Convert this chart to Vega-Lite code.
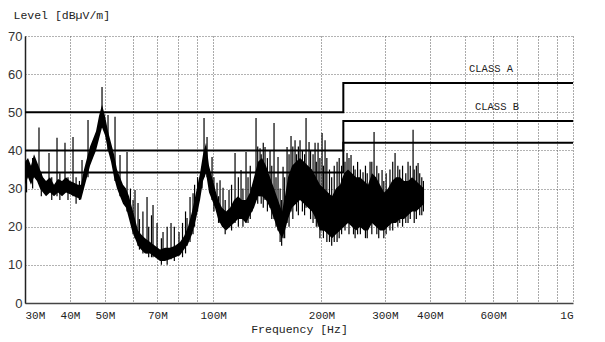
{
  "$schema": "https://vega.github.io/schema/vega-lite/v6.json",
  "width": 548,
  "height": 267,
  "autosize": {"type": "none"},
  "padding": {"left": 25, "top": 36, "right": 32, "bottom": 39},
  "background": "white",
  "config": {"view": {"stroke": null}},
  "datasets": {
    "band": [
      {"f": 30.00, "v2": 31, "v": 37}, {"f": 30.58, "v2": 33, "v": 38}, {"f": 31.17, "v2": 31, "v": 36},
      {"f": 31.78, "v2": 33, "v": 39}, {"f": 32.39, "v2": 32, "v": 37}, {"f": 33.02, "v2": 30, "v": 35},
      {"f": 33.66, "v2": 29, "v": 33}, {"f": 34.32, "v2": 28, "v": 32}, {"f": 35.21, "v2": 29, "v": 33},
      {"f": 36.12, "v2": 28, "v": 31}, {"f": 37.05, "v2": 29, "v": 32.5}, {"f": 38.02, "v2": 28, "v": 32},
      {"f": 39.00, "v2": 29, "v": 33}, {"f": 40.01, "v2": 28.5, "v": 32}, {"f": 41.05, "v2": 28, "v": 31.5},
      {"f": 42.11, "v2": 27.5, "v": 31}, {"f": 42.93, "v2": 27, "v": 31}, {"f": 43.76, "v2": 30, "v": 35},
      {"f": 44.61, "v2": 33, "v": 38}, {"f": 45.48, "v2": 36, "v": 41}, {"f": 46.36, "v2": 38, "v": 43},
      {"f": 47.26, "v2": 40, "v": 45}, {"f": 48.17, "v2": 43, "v": 49}, {"f": 49.11, "v2": 46, "v": 52},
      {"f": 50.06, "v2": 44, "v": 49}, {"f": 51.03, "v2": 40, "v": 45}, {"f": 52.02, "v2": 37, "v": 42},
      {"f": 53.03, "v2": 33, "v": 39}, {"f": 54.05, "v2": 30, "v": 35}, {"f": 55.10, "v2": 28, "v": 33},
      {"f": 56.17, "v2": 26, "v": 31}, {"f": 57.26, "v2": 25, "v": 30}, {"f": 58.37, "v2": 22, "v": 28},
      {"f": 59.50, "v2": 19, "v": 25}, {"f": 60.65, "v2": 17, "v": 22}, {"f": 61.83, "v2": 15, "v": 19},
      {"f": 63.03, "v2": 14, "v": 18}, {"f": 64.66, "v2": 13, "v": 17}, {"f": 66.77, "v2": 13, "v": 16},
      {"f": 68.94, "v2": 12, "v": 15}, {"f": 71.18, "v2": 11, "v": 14}, {"f": 73.49, "v2": 11, "v": 14.5},
      {"f": 75.88, "v2": 11.5, "v": 14.5}, {"f": 78.35, "v2": 12, "v": 15}, {"f": 80.90, "v2": 12.5, "v": 16},
      {"f": 83.00, "v2": 14, "v": 17.5}, {"f": 85.15, "v2": 15.5, "v": 20}, {"f": 87.36, "v2": 18, "v": 24},
      {"f": 89.62, "v2": 22, "v": 29}, {"f": 91.95, "v2": 27, "v": 34}, {"f": 93.73, "v2": 32, "v": 39},
      {"f": 95.55, "v2": 34, "v": 42}, {"f": 97.40, "v2": 29, "v": 36}, {"f": 99.29, "v2": 27, "v": 33},
      {"f": 101.21, "v2": 25, "v": 30}, {"f": 103.17, "v2": 22, "v": 27}, {"f": 105.85, "v2": 20, "v": 25},
      {"f": 108.59, "v2": 19, "v": 24}, {"f": 111.41, "v2": 20, "v": 25}, {"f": 114.29, "v2": 21, "v": 27},
      {"f": 117.26, "v2": 22, "v": 28}, {"f": 120.30, "v2": 22, "v": 27}, {"f": 123.41, "v2": 21, "v": 27},
      {"f": 126.61, "v2": 23, "v": 29}, {"f": 129.89, "v2": 25, "v": 33}, {"f": 133.26, "v2": 28, "v": 37},
      {"f": 136.72, "v2": 28, "v": 38}, {"f": 140.26, "v2": 27, "v": 36}, {"f": 143.90, "v2": 25, "v": 33},
      {"f": 147.63, "v2": 22, "v": 30}, {"f": 151.45, "v2": 19, "v": 27}, {"f": 155.38, "v2": 17, "v": 24},
      {"f": 158.39, "v2": 19, "v": 28}, {"f": 161.46, "v2": 22, "v": 33}, {"f": 165.65, "v2": 25, "v": 36},
      {"f": 169.94, "v2": 26, "v": 37}, {"f": 174.35, "v2": 27, "v": 38}, {"f": 178.86, "v2": 26, "v": 37},
      {"f": 183.50, "v2": 25, "v": 36}, {"f": 188.26, "v2": 24, "v": 35}, {"f": 193.14, "v2": 22, "v": 33},
      {"f": 198.14, "v2": 19, "v": 31}, {"f": 203.28, "v2": 19, "v": 30}, {"f": 208.55, "v2": 18, "v": 29},
      {"f": 213.96, "v2": 17, "v": 28}, {"f": 219.50, "v2": 18, "v": 30}, {"f": 225.19, "v2": 19, "v": 31},
      {"f": 231.03, "v2": 20, "v": 34}, {"f": 237.02, "v2": 21, "v": 35}, {"f": 243.16, "v2": 20, "v": 34},
      {"f": 249.47, "v2": 19, "v": 33}, {"f": 255.93, "v2": 20, "v": 33}, {"f": 262.57, "v2": 19, "v": 32},
      {"f": 269.37, "v2": 19, "v": 31}, {"f": 276.36, "v2": 21, "v": 34}, {"f": 283.52, "v2": 20, "v": 33},
      {"f": 290.87, "v2": 19, "v": 31}, {"f": 298.41, "v2": 19, "v": 29}, {"f": 306.14, "v2": 20, "v": 30},
      {"f": 314.08, "v2": 21, "v": 32}, {"f": 322.22, "v2": 21, "v": 33}, {"f": 330.69, "v2": 22, "v": 33},
      {"f": 339.27, "v2": 22, "v": 32}, {"f": 348.06, "v2": 23, "v": 32}, {"f": 357.09, "v2": 24, "v": 33},
      {"f": 366.35, "v2": 24, "v": 32}, {"f": 375.84, "v2": 25, "v": 31}, {"f": 385.59, "v2": 26, "v": 30}
    ],
    "spikes": [
      {"f": 32.81, "v": 33, "v2": 46}, {"f": 34.98, "v": 29, "v2": 39.3}, {"f": 36.82, "v": 28, "v2": 43.3},
      {"f": 38.75, "v": 29, "v2": 42}, {"f": 40.79, "v": 28, "v2": 43.5}, {"f": 43.21, "v": 29, "v2": 37.5},
      {"f": 44.90, "v": 33, "v2": 48}, {"f": 49.11, "v": 46, "v2": 56.6}, {"f": 51.03, "v": 40, "v2": 49.3},
      {"f": 53.37, "v": 32, "v2": 48.8}, {"f": 55.10, "v": 28, "v2": 38.8}, {"f": 57.63, "v": 24, "v2": 39.6},
      {"f": 60.65, "v": 17, "v2": 29.6}, {"f": 61.83, "v": 15, "v2": 26.2}, {"f": 65.50, "v": 13, "v2": 27.8},
      {"f": 68.06, "v": 12, "v2": 25.7}, {"f": 69.83, "v": 12, "v2": 21}, {"f": 72.56, "v": 11, "v2": 18.6},
      {"f": 76.37, "v": 11.5, "v2": 21}, {"f": 80.38, "v": 12.5, "v2": 18.6}, {"f": 84.61, "v": 15, "v2": 22.3},
      {"f": 86.25, "v": 16, "v2": 27.8}, {"f": 87.92, "v": 18, "v2": 28.8}, {"f": 93.13, "v": 30, "v2": 35.7},
      {"f": 94.33, "v": 33, "v2": 48.5}, {"f": 96.16, "v": 33, "v2": 43.5}, {"f": 99.29, "v": 27, "v2": 38.3},
      {"f": 102.51, "v": 24, "v2": 31.5}, {"f": 104.50, "v": 21, "v2": 32.2}, {"f": 106.52, "v": 20, "v2": 30.2},
      {"f": 110.69, "v": 20, "v2": 29.6}, {"f": 115.03, "v": 21, "v2": 39.3}, {"f": 119.53, "v": 22, "v2": 34.9},
      {"f": 123.41, "v": 21, "v2": 39.6}, {"f": 128.25, "v": 24, "v2": 30.4}, {"f": 131.57, "v": 27, "v2": 48.5},
      {"f": 134.99, "v": 28, "v2": 40.6}, {"f": 139.37, "v": 27, "v2": 40.9}, {"f": 143.90, "v": 25, "v2": 40.1},
      {"f": 147.63, "v": 22, "v2": 47.2}, {"f": 151.45, "v": 19, "v2": 38.3}, {"f": 156.41, "v": 17, "v2": 35.7},
      {"f": 160.46, "v": 21, "v2": 40.9}, {"f": 164.59, "v": 24, "v2": 43.8}, {"f": 168.88, "v": 26, "v2": 42.7},
      {"f": 174.35, "v": 27, "v2": 42.7}, {"f": 181.19, "v": 25, "v2": 48.5}, {"f": 184.70, "v": 25, "v2": 42.2},
      {"f": 191.95, "v": 22, "v2": 42}, {"f": 195.67, "v": 20, "v2": 42}, {"f": 200.75, "v": 19, "v2": 44.6},
      {"f": 204.63, "v": 19, "v2": 42.7}, {"f": 235.51, "v": 23, "v2": 39.3}, {"f": 241.61, "v": 23, "v2": 38.8},
      {"f": 260.89, "v": 22, "v2": 34.3}, {"f": 272.92, "v": 22, "v2": 37}, {"f": 280.00, "v": 22, "v2": 44.8},
      {"f": 294.70, "v": 21, "v2": 34.9}, {"f": 320.27, "v": 23, "v2": 39.3}, {"f": 359.38, "v": 25, "v2": 45.4},
      {"f": 371.07, "v": 25, "v2": 36.7},
      {"f": 30.3, "v": 29, "v2": 36}, {"f": 31.5, "v": 30, "v2": 38}, {"f": 33.3, "v": 28, "v2": 34},
      {"f": 35.6, "v": 27, "v2": 33}, {"f": 37.5, "v": 27, "v2": 34}, {"f": 39.5, "v": 27, "v2": 33},
      {"f": 41.6, "v": 26, "v2": 33}, {"f": 42.5, "v": 27, "v2": 32},
      {"f": 58.9, "v": 22, "v2": 30}, {"f": 59.9, "v": 18, "v2": 27}, {"f": 62.4, "v": 14, "v2": 22},
      {"f": 63.8, "v": 13, "v2": 24}, {"f": 66.2, "v": 12, "v2": 20}, {"f": 67.4, "v": 12, "v2": 23},
      {"f": 71.8, "v": 10, "v2": 17}, {"f": 74.5, "v": 10, "v2": 20}, {"f": 78.0, "v": 11, "v2": 20},
      {"f": 82.2, "v": 12, "v2": 21}, {"f": 83.8, "v": 13, "v2": 24}, {"f": 88.8, "v": 20, "v2": 31},
      {"f": 90.5, "v": 24, "v2": 33},
      {"f": 100.5, "v": 24, "v2": 33}, {"f": 103.5, "v": 21, "v2": 28}, {"f": 108.0, "v": 18, "v2": 27},
      {"f": 112.5, "v": 19, "v2": 31}, {"f": 117.5, "v": 20, "v2": 33}, {"f": 121.0, "v": 20, "v2": 30},
      {"f": 125.0, "v": 21, "v2": 33}, {"f": 126.8, "v": 22, "v2": 36},
      {"f": 133.0, "v": 26, "v2": 41}, {"f": 136.0, "v": 26, "v2": 39}, {"f": 137.8, "v": 25, "v2": 42},
      {"f": 141.5, "v": 24, "v2": 38}, {"f": 145.5, "v": 22, "v2": 36}, {"f": 149.5, "v": 20, "v2": 33},
      {"f": 153.5, "v": 16, "v2": 30}, {"f": 155.0, "v": 15, "v2": 27}, {"f": 158.0, "v": 17, "v2": 33},
      {"f": 162.5, "v": 20, "v2": 39}, {"f": 166.5, "v": 22, "v2": 41}, {"f": 170.5, "v": 24, "v2": 39},
      {"f": 172.5, "v": 23, "v2": 41}, {"f": 177.0, "v": 24, "v2": 40}, {"f": 179.5, "v": 23, "v2": 39},
      {"f": 186.5, "v": 22, "v2": 40}, {"f": 189.5, "v": 21, "v2": 39}, {"f": 193.5, "v": 20, "v2": 37},
      {"f": 198.0, "v": 17, "v2": 38}, {"f": 202.5, "v": 17, "v2": 36}, {"f": 207.0, "v": 16, "v2": 38},
      {"f": 210.5, "v": 16, "v2": 35}, {"f": 213.5, "v": 15, "v2": 33}, {"f": 217.0, "v": 16, "v2": 36},
      {"f": 221.0, "v": 16, "v2": 37}, {"f": 224.0, "v": 17, "v2": 38}, {"f": 227.5, "v": 18, "v2": 36},
      {"f": 232.5, "v": 19, "v2": 37}, {"f": 238.5, "v": 18, "v2": 38}, {"f": 245.5, "v": 18, "v2": 36},
      {"f": 248.0, "v": 17, "v2": 35}, {"f": 252.0, "v": 18, "v2": 37}, {"f": 256.5, "v": 18, "v2": 35},
      {"f": 265.0, "v": 17, "v2": 36}, {"f": 268.0, "v": 17, "v2": 34}, {"f": 276.0, "v": 18, "v2": 37},
      {"f": 285.0, "v": 18, "v2": 36}, {"f": 288.5, "v": 17, "v2": 34}, {"f": 298.0, "v": 17, "v2": 32},
      {"f": 302.5, "v": 18, "v2": 34}, {"f": 310.0, "v": 19, "v2": 35}, {"f": 315.5, "v": 19, "v2": 37},
      {"f": 326.0, "v": 20, "v2": 36}, {"f": 330.0, "v": 21, "v2": 35}, {"f": 336.0, "v": 20, "v2": 36},
      {"f": 343.0, "v": 21, "v2": 34}, {"f": 348.0, "v": 21, "v2": 37}, {"f": 353.0, "v": 22, "v2": 36},
      {"f": 362.0, "v": 21, "v2": 35}, {"f": 367.0, "v": 22, "v2": 36}, {"f": 375.0, "v": 23, "v2": 34},
      {"f": 380.0, "v": 23, "v2": 33}, {"f": 384.0, "v": 24, "v2": 32}
    ],
    "limits": [
      {"series": "Class A", "f": 30, "v": 50}, {"series": "Class A", "f": 230, "v": 57.7}, {"series": "Class A", "f": 1000, "v": 57.7},
      {"series": "Class B", "f": 30, "v": 40}, {"series": "Class B", "f": 230, "v": 47.7}, {"series": "Class B", "f": 1000, "v": 47.7},
      {"series": "Margin", "f": 30, "v": 34.2}, {"series": "Margin", "f": 230, "v": 42}, {"series": "Margin", "f": 1000, "v": 42}
    ],
    "labels": [
      {"label": "CLASS A", "f": 514, "v": 61.3},
      {"label": "CLASS B", "f": 534, "v": 51.4}
    ]
  },
  "encoding": {
    "x": {
      "field": "f", "type": "quantitative",
      "scale": {"type": "log", "domain": [30, 1000], "nice": false},
      "axis": {
        "values": [30, 40, 50, 60, 70, 80, 90, 100, 200, 300, 400, 500, 600, 700, 800, 900, 1000],
        "labelExpr": "indexof([30,40,50,70,100,200,300,400,600], datum.value) >= 0 ? datum.value + 'M' : (datum.value == 1000 ? '1G' : '')",
        "labelOverlap": false,
        "labelFlush": true,
        "grid": true, "gridDash": [1, 2], "gridColor": "#555", "gridWidth": 1,
        "ticks": false,
        "domainColor": "#444", "domainWidth": 1.5,
        "labelFont": "Liberation Mono", "labelFontSize": 11, "labelColor": "#222", "labelPadding": 6,
        "title": "Frequency [Hz]", "titleFont": "Liberation Mono", "titleFontWeight": "normal",
        "titleFontSize": 11.5, "titleColor": "#222", "titlePadding": 3
      }
    },
    "y": {
      "field": "v", "type": "quantitative",
      "scale": {"domain": [0, 70], "nice": false},
      "axis": {
        "values": [0, 10, 20, 30, 40, 50, 60, 70],
        "labelOverlap": false,
        "labelFlush": false,
        "grid": true, "gridDash": [1, 2], "gridColor": "#666", "gridWidth": 1,
        "ticks": false,
        "domainColor": "#222", "domainWidth": 1.5,
        "labelFont": "Liberation Sans", "labelFontSize": 13, "labelColor": "#333", "labelPadding": 3,
        "title": "Level [dBµV/m]", "titleFont": "Liberation Mono", "titleFontWeight": "normal",
        "titleFontSize": 11.5, "titleColor": "#222", "titleAngle": 0, "titleAlign": "left",
        "titleBaseline": "middle", "titleX": -12, "titleY": -21
      }
    }
  },
  "layer": [
    {
      "data": {"name": "band"},
      "mark": {"type": "area", "color": "black", "interpolate": "linear"},
      "encoding": {"y2": {"field": "v2"}}
    },
    {
      "data": {"name": "spikes"},
      "mark": {"type": "rule", "color": "black", "strokeWidth": 1.2},
      "encoding": {"y2": {"field": "v2"}}
    },
    {
      "data": {"name": "limits"},
      "mark": {"type": "line", "color": "black", "strokeWidth": 2, "interpolate": "step-after"},
      "encoding": {"detail": {"field": "series"}}
    },
    {
      "data": {"name": "labels"},
      "mark": {"type": "text", "align": "left", "baseline": "middle", "font": "Liberation Mono", "fontSize": 10.5, "color": "#222"},
      "encoding": {"text": {"field": "label"}}
    }
  ]
}
